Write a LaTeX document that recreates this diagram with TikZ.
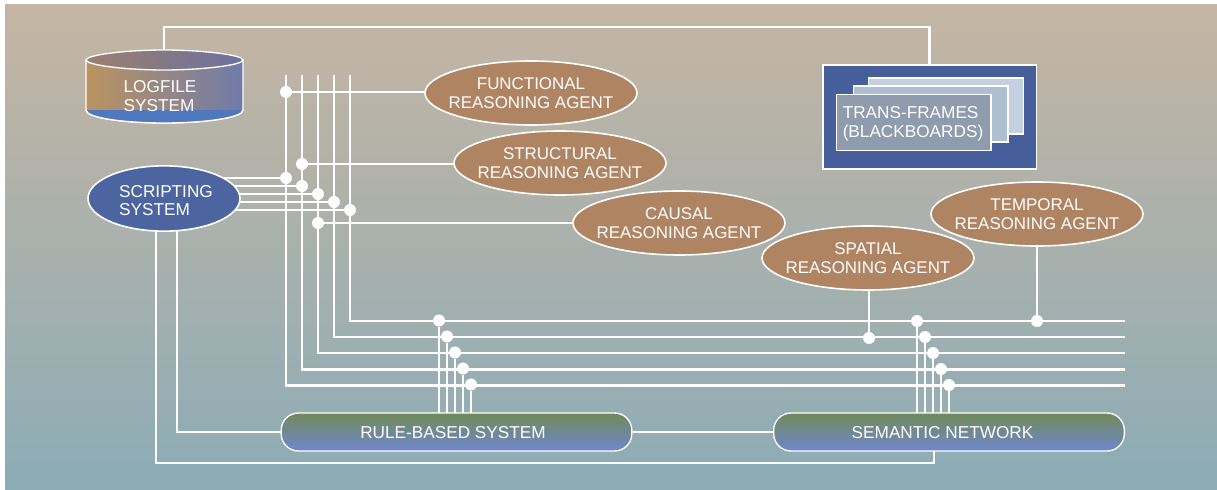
\documentclass[tikz,border=0pt]{standalone}
\usepackage{fontspec}
\setmainfont{Liberation Sans}
\usepackage{tikz}
\usetikzlibrary{shapes.geometric,backgrounds}
\definecolor{sandtop}{RGB}{197,181,163}
\definecolor{sagemid}{RGB}{168,178,170}
\definecolor{tealbot}{RGB}{140,172,182}
\definecolor{agentbrown}{RGB}{174,132,99}
\definecolor{scriptblue}{RGB}{76,100,160}
\definecolor{boardblue}{RGB}{70,94,154}
\definecolor{frameback}{RGB}{194,208,224}
\definecolor{framemid}{RGB}{175,191,210}
\definecolor{framefront}{RGB}{142,156,174}
\definecolor{railgreen}{RGB}{112,138,90}
\definecolor{railgrey}{RGB}{118,136,154}
\definecolor{railblue}{RGB}{112,134,206}
\definecolor{logtan}{RGB}{186,148,96}
\definecolor{logslate}{RGB}{112,122,170}
\definecolor{logbrown}{RGB}{156,128,110}
\definecolor{logdark}{RGB}{108,112,160}
\definecolor{logband}{RGB}{80,120,190}
\tikzstyle{agent} = [ellipse, draw=white, line width=1.2pt, fill=agentbrown, text=white, minimum width=159pt, minimum height=48pt, inner ysep=0pt, inner xsep=-6pt, align=center, font=\fontsize{12.7}{14}\selectfont]
\tikzstyle{scripter} = [ellipse, draw=white, line width=1.2pt, fill=scriptblue, minimum width=114pt, minimum height=49pt, inner sep=0pt]
\tikzstyle{rail} = [rectangle, rounded corners=13pt, draw=white, line width=1pt, top color=railgreen, middle color=railgrey, bottom color=railblue, minimum width=263pt, minimum height=28.5pt, inner sep=0pt]
\tikzstyle{frame} = [rectangle, draw=white, line width=1pt, minimum width=116pt, minimum height=42pt, inner sep=0pt]
\tikzstyle{caption} = [text=white, align=left, inner sep=0pt, font=\fontsize{12.9}{14}\selectfont]
\tikzstyle{dot} = [circle, fill=white, minimum size=9pt, inner sep=0pt]
\tikzstyle{wire} = [draw=white, line width=1.8pt]
\begin{document}
\begin{tikzpicture}[x=.75pt,y=-.75pt]
\useasboundingbox (0,0) rectangle (1217,489);
% logfile drum
\path[left color=logtan, right color=logslate, draw=white, line width=1pt] (86,60) -- (86,110) .. controls (86,118) and (125,123) .. (164,123) .. controls (203,123) and (243,118) .. (243,110) -- (243,60) -- cycle;
\path[fill=logband] (86,110) .. controls (86,118) and (125,123) .. (164,123) .. controls (203,123) and (243,118) .. (243,110) -- cycle;
\path[draw=white, line width=1pt] (86,110) .. controls (86,118) and (125,123) .. (164,123) .. controls (203,123) and (243,118) .. (243,110);
\path[left color=logbrown, right color=logdark, draw=white, line width=1pt] (86,60) .. controls (86,55) and (125,50) .. (164,50) .. controls (203,50) and (243,55) .. (243,60) .. controls (243,65) and (203,70) .. (164,70) .. controls (125,70) and (86,65) .. (86,60) -- cycle;
\node (logfile) [caption] at (160,96) {LOGFILE\\SYSTEM};
\coordinate (logtop) at (164,50);
% agents and systems
\node (script) [scripter] at (164,198.5) {};
\node (scripttext) [caption] at (166,200.5) {SCRIPTING\\SYSTEM};
\node (functional) [agent] at (531,93) {FUNCTIONAL\\REASONING AGENT};
\node (structural) [agent] at (560,163) {STRUCTURAL\\REASONING AGENT};
\node (causal) [agent] at (679,223) {CAUSAL\\REASONING AGENT};
\node (spatial) [agent] at (868,258) {SPATIAL\\REASONING AGENT};
\node (temporal) [agent] at (1037,214) {TEMPORAL\\REASONING AGENT};
\node (rulebased) [rail] at (456.5,432) {};
\node (ruletext) [caption] at (453,432.5) {RULE-BASED SYSTEM};
\node (semantic) [rail] at (949,432) {};
\node (semantictext) [caption] at (942.5,432.5) {SEMANTIC NETWORK};
% blackboards
\node (board) [rectangle, draw=white, line width=1pt, fill=boardblue, minimum width=160pt, minimum height=78pt] at (929.5,117) {};
\node (backframe) [frame, fill=frameback] at (946,106) {};
\node (midframe) [frame, fill=framemid] at (930.5,114) {};
\node (frontframe) [frame, fill=framefront] at (913.5,122.5) {};
\node (frametext) [caption] at (913,123.5) {TRANS-FRAMES\\(BLACKBOARDS)};
% junctions
\node (sa) [dot] at (286,178) {};
\node (sb) [dot] at (302,186) {};
\node (sc) [dot] at (318,194) {};
\node (sd) [dot] at (334,202) {};
\node (se) [dot] at (350,210) {};
\node (fa) [dot] at (286,92) {};
\node (fb) [dot] at (302,164) {};
\node (fc) [dot] at (318,223) {};
\node (ra) [dot] at (439,320.5) {};
\node (rb) [dot] at (447,336.5) {};
\node (rc) [dot] at (455,352.5) {};
\node (rd) [dot] at (463,368.5) {};
\node (re) [dot] at (471,384.5) {};
\node (na) [dot] at (917,321) {};
\node (nb) [dot] at (925,337) {};
\node (nc) [dot] at (933,353) {};
\node (nd) [dot] at (941,369) {};
\node (ne) [dot] at (949,385) {};
\node (spatialdot) [dot] at (869,338) {};
\node (temporaldot) [dot] at (1037,321) {};
\begin{scope}[on background layer]
\shade[top color=sandtop, middle color=sagemid, bottom color=tealbot] (5,4.5) rectangle (1217,489);
% bus, from the top ends round to the right ends
\foreach \busx/\busy/\busname in {286/385.5/e, 302/369.5/d, 318/353/c, 334/337/b, 350/321/a}{
  \coordinate (top\busname) at (\busx,75);
  \coordinate (end\busname) at (1125,\busy);
  \draw[wire] (top\busname) |- (end\busname);
}
% scripting to bus
\foreach \jname in {sa,sb,sc,sd,se}{
  \draw[wire] (script.center |- \jname) -- (\jname);
}
\draw[wire] (fa) -- (fa -| functional.center);
\draw[wire] (fb) -- (fb -| structural.center);
\draw[wire] (fc) -- (fc -| causal.center);
% bus to rule base and semantic net
\foreach \jname in {ra,rb,rc,rd,re}{
  \draw[wire] (\jname) -- (\jname |- rulebased.center);
}
\foreach \jname in {na,nb,nc,nd,ne}{
  \draw[wire] (\jname) -- (\jname |- semantic.center);
}
\draw[wire] (spatial.center -| spatialdot) -- (spatialdot);
\draw[wire] (temporal.center -| temporaldot) -- (temporaldot);
\draw[wire] (rulebased) -- (semantic);
\coordinate (scriptleft) at (156,198);
\coordinate (scriptright) at (177,198);
\coordinate (semanticfoot) at (934,432);
\draw[wire] (scriptright) |- (rulebased);
\draw[wire] (scriptleft) |- (934,463) -- (semanticfoot);
\draw[wire] (logtop) -- (164,27) -| (board.north);
\end{scope}
\end{tikzpicture}
\end{document}
